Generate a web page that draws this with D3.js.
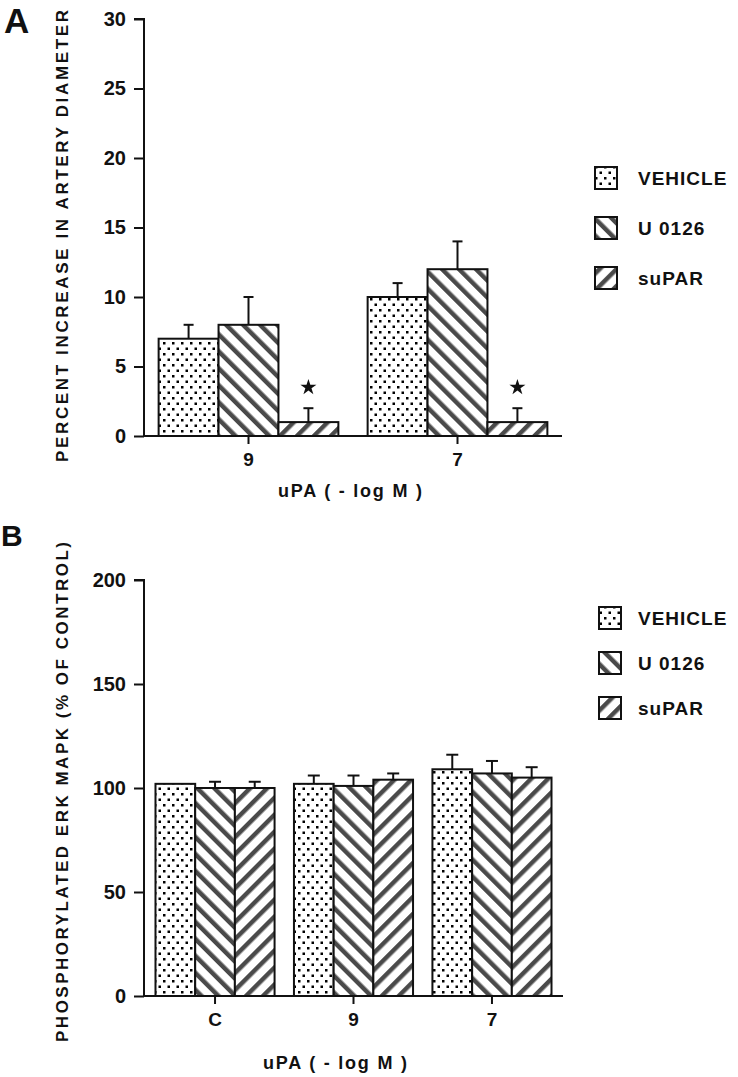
<!DOCTYPE html>
<html><head><meta charset="utf-8">
<script src="https://cdn.jsdelivr.net/npm/d3@7"></script>
<style>body{margin:0;background:#fff}svg{display:block}text{font-family:"Liberation Sans",Arial,sans-serif;font-weight:bold;fill:#111}</style>
</head><body>
<script>
const seriesNames = ["VEHICLE","U 0126","suPAR"];
// Panel A
const groupsA = ["9","7"];
const valuesA = { "VEHICLE":[7,10], "U 0126":[8,12], "suPAR":[1,1] };
const errorsA = { "VEHICLE":[1,1], "U 0126":[2,2], "suPAR":[1,1] };
const starsA = [false,false,true];
const ticksA = [0,5,10,15,20,25,30];
// Panel B
const groupsB = ["C","9","7"];
const valuesB = { "VEHICLE":[102,102,109], "U 0126":[100,101,107], "suPAR":[100,104,105] };
const errorsB = { "VEHICLE":[0,4,7], "U 0126":[3,5,6], "suPAR":[3,3,5] };
const ticksB = [0,50,100,150,200];

const svg = d3.select("body").append("svg").attr("width",738).attr("height",1077);
const defs = svg.append("defs");
// patterns
const dots = defs.append("pattern").attr("id","p0").attr("patternUnits","userSpaceOnUse").attr("width",9).attr("height",11);
dots.append("rect").attr("width",9).attr("height",11).attr("fill","#fff");
dots.append("rect").attr("x",1).attr("y",1).attr("width",2.5).attr("height",2.5).attr("fill","#000");
dots.append("rect").attr("x",5.5).attr("y",6.5).attr("width",2.5).attr("height",2.5).attr("fill","#000");
function stripes(id, ang){
  const p = defs.append("pattern").attr("id",id).attr("patternUnits","userSpaceOnUse")
    .attr("width",12).attr("height",12).attr("patternTransform","rotate("+ang+")");
  p.append("rect").attr("width",12).attr("height",12).attr("fill","#fff");
  p.append("rect").attr("x",0).attr("y",0).attr("width",4.5).attr("height",12).attr("fill","#4a4a4a");
}
stripes("p1",-45); stripes("p2",45);
const fills = ["url(#p0)","url(#p1)","url(#p2)"];

function panel(cfg){
  const g = svg.append("g");
  const y = d3.scaleLinear().domain(cfg.domain).range([cfg.y0,cfg.y1]);
  const x0 = d3.scaleBand().domain(cfg.groups).range([144,cfg.xEnd]).paddingInner(0.14).paddingOuter(cfg.po);
  const x1 = d3.scaleBand().domain(seriesNames).range([0,x0.bandwidth()]);
  // bars
  seriesNames.forEach((s,si)=>{
    cfg.groups.forEach((gr,gi)=>{
      const v = cfg.values[s][gi], e = cfg.errors[s][gi];
      const bx = x0(gr)+x1(s), bw = x1.bandwidth(), cx = bx+bw/2;
      if(e>0){
        g.append("line").attr("x1",cx).attr("x2",cx).attr("y1",y(v)).attr("y2",y(v+e)).attr("stroke","#111").attr("stroke-width",2);
        g.append("line").attr("x1",cx-cfg.cap).attr("x2",cx+cfg.cap).attr("y1",y(v+e)).attr("y2",y(v+e)).attr("stroke","#111").attr("stroke-width",2);
      }
      g.append("rect").attr("x",bx).attr("y",y(v)).attr("width",bw).attr("height",y(0)-y(v))
        .attr("fill",fills[si]).attr("stroke","#111").attr("stroke-width",2);
      if(cfg.stars && cfg.stars[si]){
        g.append("path").attr("d",d3.symbol(d3.symbolStar,80)()).attr("transform",`translate(${cx},${y(cfg.starAt)})`).attr("fill","#111");
      }
    });
  });
  // y axis
  const ya = g.append("g").attr("transform","translate(144,0)")
    .call(d3.axisLeft(y).tickValues(cfg.ticks).tickSize(10).tickPadding(8).tickFormat(d3.format("d")));
  ya.select(".domain").attr("stroke","#111").attr("stroke-width",2).attr("d",`M-10,${cfg.y1}H0V${cfg.y0}`);
  ya.selectAll(".tick line").attr("stroke","#111").attr("stroke-width",2);
  ya.selectAll(".tick text").style("font-size","20px").style("font-family","'Liberation Sans',Arial,sans-serif").style("font-weight","bold").attr("fill","#111");
  // x axis
  const xa = g.append("g").attr("transform",`translate(0,${cfg.y0})`)
    .call(d3.axisBottom(x0).tickSize(8).tickPadding(9));
  xa.select(".domain").attr("stroke","#111").attr("stroke-width",2).attr("d",`M144,0H${cfg.xEnd}`);
  xa.selectAll(".tick line").attr("stroke","#111").attr("stroke-width",2);
  xa.selectAll(".tick text").style("font-size","19px").style("font-family","'Liberation Sans',Arial,sans-serif").style("font-weight","bold").attr("fill","#111");
  // titles
  g.append("text").attr("x",cfg.xlabX).attr("y",cfg.xlabY).attr("text-anchor","middle").style("font-size","18px")
    .attr("textLength",cfg.xlabLen).attr("lengthAdjust","spacing").text("uPA ( - log M )");
  g.append("text").attr("transform",`translate(68,${cfg.ytitleC}) rotate(-90)`).attr("text-anchor","middle")
    .style("font-size","17px").attr("textLength",cfg.ytitleLen).attr("lengthAdjust","spacing").text(cfg.ytitle);
  g.append("text").attr("x",cfg.labX).attr("y",cfg.labY).style("font-size",cfg.labSize+"px").text(cfg.label);
  // legend
  seriesNames.forEach((s,i)=>{
    const ly = cfg.legY + i*cfg.legStep;
    g.append("rect").attr("x",cfg.legX).attr("y",ly-11).attr("width",22).attr("height",22)
      .attr("fill",fills[i]).attr("stroke","#111").attr("stroke-width",2);
    g.append("text").attr("x",638).attr("y",ly+7).style("font-size","19px").style("letter-spacing","1px").text(s);
  });
}

panel({groups:groupsA, values:valuesA, errors:errorsA, stars:starsA, starAt:3.5, domain:[0,30], y0:436, y1:19,
  xEnd:562, po:0.07, ticks:ticksA, cap:5, xlabX:350, xlabY:497, xlabLen:144,
  ytitle:"PERCENT INCREASE IN ARTERY DIAMETER", ytitleC:236, ytitleLen:452,
  label:"A", labX:4, labY:33, labSize:35, legX:595, legY:178, legStep:50});
panel({groups:groupsB, values:valuesB, errors:errorsB, stars:null, domain:[0,200], y0:996, y1:580,
  xEnd:563, po:0.083, ticks:ticksB, cap:6, xlabX:335, xlabY:1069, xlabLen:144,
  ytitle:"PHOSPHORYLATED ERK MAPK (% OF CONTROL)", ytitleC:792, ytitleLen:500,
  label:"B", labX:1, labY:546, labSize:30, legX:599, legY:618, legStep:45});
</script>
</body></html>
